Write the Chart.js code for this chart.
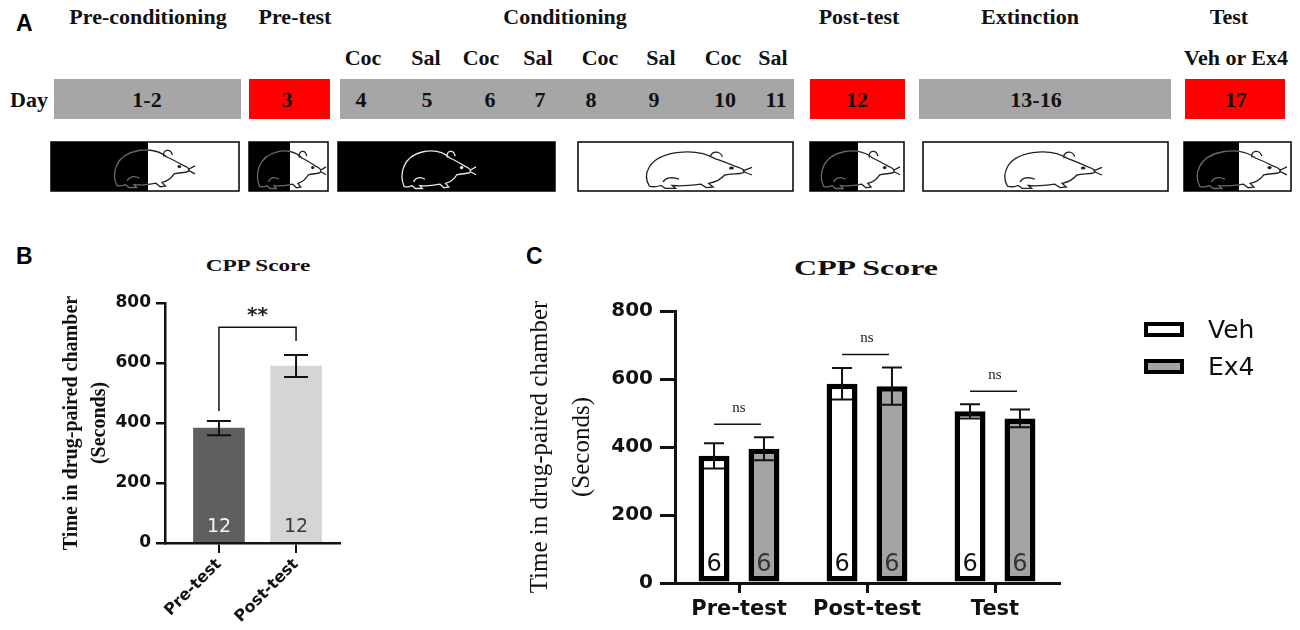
<!DOCTYPE html>
<html>
<head>
<meta charset="utf-8">
<title>CPP Score</title>
<script src="https://cdn.jsdelivr.net/npm/chart.js@4.4.1/dist/chart.umd.min.js"></script>
<style>
  html, body { margin: 0; padding: 0; background: #fff; }
  body { position: relative; width: 1300px; height: 630px; overflow: hidden; }
  .panel { position: absolute; font-family: 'Liberation Sans', Arial, sans-serif; font-weight: bold; font-size: 23px; color: #000; }
  .title { position: absolute; white-space: nowrap; font-family: 'Liberation Serif', serif; font-weight: bold; color: #111;
           transform: translate(-50%, -50%) scaleX(1.45); }
  .chart { position: absolute; }
  #legendC { position: absolute; left: 1144px; top: 311px; font-family: 'DejaVu Sans', sans-serif; font-size: 25px; color: #111; }
  #legendC .row { display: flex; align-items: center; height: 37px; }
  #legendC .sw { width: 40px; height: 15px; box-sizing: border-box; border: 4px solid #000; margin-right: 24px; }
</style>
</head>
<body>
<svg id="scheme" width="1300" height="200" style="position:absolute;left:0;top:0"></svg>
<div class="panel" style="left:16px;top:10px">A</div>
<div class="panel" style="left:16px;top:243px">B</div>
<div class="panel" style="left:526px;top:243px">C</div>
<div class="title" style="left:258px;top:266px;font-size:16px">CPP Score</div>
<div class="title" style="left:866px;top:268px;font-size:22px">CPP Score</div>
<div class="chart" style="left:0;top:280px;width:345px;height:350px"><canvas id="chartB"></canvas></div>
<div class="chart" style="left:500px;top:280px;width:800px;height:350px"><canvas id="chartC"></canvas></div>
<div id="legendC"></div>
<script>
// ---- panel B data ----
const categoriesB = ['Pre-test', 'Post-test'];
const meanB = [383, 590];
const semB = [24, 37];
const nB = [12, 12];
const sigB = '**';
const bracketB = 719;

// ---- panel C data ----
const categoriesC = ['Pre-test', 'Post-test', 'Test'];
const seriesC = ['Veh', 'Ex4'];
const vehMean = [374, 586, 505];
const vehSem = [37, 46, 21];
const ex4Mean = [395, 579, 484];
const ex4Sem = [34, 55, 26];
const nVeh = [6, 6, 6];
const nEx4 = [6, 6, 6];
const sigC = ['ns', 'ns', 'ns'];

// ---- panel A schedule ----
const phaseNames = ['Pre-conditioning', 'Pre-test', 'Conditioning', 'Post-test', 'Extinction', 'Test'];
const drugLabels = ['Coc', 'Sal', 'Coc', 'Sal', 'Coc', 'Sal', 'Coc', 'Sal', 'Veh or Ex4'];
const dayLabels = ['1-2', '3', '4', '5', '6', '7', '8', '9', '10', '11', '12', '13-16', '17'];

const INK = '#111';
const fillC = ['#ffffff', '#a4a4a4'];

// ---------- panel A (schematic) ----------
(function () {
  const svg = document.getElementById('scheme');
  const NS = 'http://www.w3.org/2000/svg';
  const el = (tag, attrs, parent) => {
    const e = document.createElementNS(NS, tag);
    for (const k in attrs) e.setAttribute(k, attrs[k]);
    (parent || svg).appendChild(e);
    return e;
  };
  const text = (s, x, y) => {
    const t = el('text', { x, y, 'text-anchor': 'middle', 'dominant-baseline': 'central',
      'font-family': 'Liberation Serif, serif', 'font-weight': 'bold', 'font-size': 22, fill: INK });
    t.textContent = s;
  };

  const phaseX = [148, 295, 565, 859, 1030, 1229];
  phaseNames.forEach((s, i) => text(s, phaseX[i], 16));
  const drugX = [363, 426, 481, 538, 600, 661, 723, 773, 1236];
  drugLabels.forEach((s, i) => text(s, drugX[i], 57));
  text('Day', 29, 99);

  // day strip
  const strip = [[54, 187, '#a6a6a6'], [249, 81, '#ff0000'], [340, 454, '#a6a6a6'],
                 [810, 95, '#ff0000'], [919, 252, '#a6a6a6'], [1185, 100, '#ff0000']];
  strip.forEach(([x, w, c]) => el('rect', { x, y: 79, width: w, height: 40, fill: c }));
  const dayX = [147, 287, 361, 427, 490, 540, 591, 654, 725, 776, 857, 1036, 1236];
  dayLabels.forEach((s, i) => text(s, dayX[i], 99));

  // chamber boxes: [x, w, width of black part]
  const boxes = [[51, 188, 97], [249, 79, 41], [338, 217, 217], [578, 215, 0],
                 [810, 94, 48], [923, 245, 0], [1184, 107, 55]];
  // rat placements: [x, y, sx, sy]
  const rats = [[108, 145, 0.87, 0.72], [252, 146, 0.74, 0.72], [396, 146, 0.8, 0.72],
                [638, 147, 1.14, 0.7], [815, 146, 0.85, 0.72], [997, 147, 1.05, 0.7],
                [1190, 146, 0.97, 0.72]];
  const ratPath = 'M10,56 C4,40 8,14 34,8 C48,5 60,9 68,17 C74,20 80,24 86,28 C92,31 95,34 92,37 ' +
    'C88,39 82,38 76,40 C73,46 68,50 62,52 L66,57 L60,58 L55,53 C46,55 36,56 30,55 L33,59 L24,59 L20,55 ' +
    'C16,57 12,57 10,56 Z M64,16 C62,6 72,4 74,14 M92,34 L100,29 M92,35 L100,40 M22,50 C24,44 30,42 36,46';
  const defs = el('defs', {});
  boxes.forEach(([x, w, split], i) => {
    el('rect', { x, y: 142, width: w, height: 49, fill: '#fff', stroke: '#000', 'stroke-width': 1.5 });
    if (split > 0) el('rect', { x, y: 142, width: split, height: 49, fill: '#000' });
    const cpL = el('clipPath', { id: 'cl' + i }, defs);
    el('rect', { x, y: 140, width: split, height: 55 }, cpL);
    const cpR = el('clipPath', { id: 'cr' + i }, defs);
    el('rect', { x: x + split, y: 140, width: w - split, height: 55 }, cpR);
    const [rx, ry, sx, sy] = rats[i];
    [['cl' + i, split === w ? '#e8e8e8' : '#6a6a6a'], ['cr' + i, '#222']].forEach(([cp, col]) => {
      const g = el('g', { 'clip-path': 'url(#' + cp + ')' });
      const r = el('g', { transform: `translate(${rx},${ry}) scale(${sx},${sy})` }, g);
      el('path', { d: ratPath, fill: 'none', stroke: col, 'stroke-width': 1.3, 'vector-effect': 'non-scaling-stroke' }, r);
      el('circle', { cx: 82, cy: 30, r: 2.2, fill: col }, r);
    });
  });
})();

// ---------- helpers for annotations ----------
function drawErrors(ctx, y, bars, mean, sem, cap, lw) {
  ctx.save();
  ctx.strokeStyle = INK;
  ctx.lineWidth = lw;
  bars.forEach((bar, i) => {
    const top = y.getPixelForValue(mean[i] + sem[i]);
    const bot = y.getPixelForValue(mean[i] - sem[i]);
    ctx.beginPath();
    ctx.moveTo(bar.x, top); ctx.lineTo(bar.x, bot);
    ctx.moveTo(bar.x - cap / 2, top); ctx.lineTo(bar.x + cap / 2, top);
    ctx.moveTo(bar.x - cap / 2, bot); ctx.lineTo(bar.x + cap / 2, bot);
    ctx.stroke();
  });
  ctx.restore();
}

function drawCounts(ctx, y, bars, counts, colors, font, lift) {
  ctx.save();
  ctx.font = font;
  ctx.textAlign = 'center';
  ctx.textBaseline = 'middle';
  bars.forEach((bar, i) => {
    ctx.fillStyle = colors[i];
    ctx.fillText(String(counts[i]), bar.x, y.getPixelForValue(0) - lift);
  });
  ctx.restore();
}

// ---------- panel B ----------
const annotB = {
  id: 'annotB',
  afterDatasetsDraw(chart) {
    const ctx = chart.ctx, y = chart.scales.y;
    const bars = chart.getDatasetMeta(0).data;
    drawErrors(ctx, y, bars, meanB, semB, 24, 2);
    drawCounts(ctx, y, bars, nB, ['#f4f4f4', '#3a3a3a'], '19px "DejaVu Sans"', 16);
    const x0 = bars[0].x, x1 = bars[1].x;
    const top = y.getPixelForValue(bracketB);
    ctx.save();
    ctx.strokeStyle = INK;
    ctx.lineWidth = 1.5;
    ctx.beginPath();
    ctx.moveTo(x0, y.getPixelForValue(meanB[0] + semB[0]) - 10);
    ctx.lineTo(x0, top);
    ctx.lineTo(x1, top);
    ctx.lineTo(x1, y.getPixelForValue(meanB[1] + semB[1]) - 14);
    ctx.stroke();
    ctx.fillStyle = '#222';
    ctx.font = 'bold 20px "DejaVu Sans"';
    ctx.textAlign = 'center';
    ctx.textBaseline = 'middle';
    ctx.fillText(sigB, (x0 + x1) / 2, top - 12);
    ctx.restore();
  }
};

new Chart(document.getElementById('chartB'), {
  type: 'bar',
  data: {
    datasets: [{
      data: meanB.map((v, i) => ({ x: i, y: v })),
      backgroundColor: ['#5f5f5f', '#d5d5d5'],
      barThickness: 51
    }]
  },
  options: {
    responsive: true,
    maintainAspectRatio: false,
    animation: false,
    layout: { padding: { top: 23, right: 5, left: 0, bottom: 0 } },
    plugins: { legend: { display: false }, tooltip: { enabled: false } },
    scales: {
      x: {
        type: 'linear',
        min: -0.7,
        max: 1.57,
        offset: false,
        afterBuildTicks: s => { s.ticks = categoriesB.map((c, i) => ({ value: i })); },
        afterFit: s => { s.height = 87; },
        grid: { drawOnChartArea: false, offset: false, color: INK, lineWidth: 2, tickLength: 10 },
        border: { color: INK, width: 2.5 },
        ticks: {
          minRotation: 45, maxRotation: 45, autoSkip: false, padding: 2,
          color: INK, font: { family: 'DejaVu Sans', weight: 'bold', size: 16 },
          callback: v => categoriesB[v] || ''
        }
      },
      y: {
        min: 0,
        max: 800,
        afterFit: s => { s.width = 165; },
        grid: { drawOnChartArea: false, color: INK, lineWidth: 2.5, tickLength: 9 },
        border: { color: INK, width: 2.5 },
        ticks: { stepSize: 200, padding: 5, color: INK, font: { family: 'DejaVu Sans', weight: 'bold', size: 17 } },
        title: {
          display: true,
          text: ['Time in drug-paired chamber', '(Seconds)'],
          color: INK,
          padding: { top: 58, bottom: 0 },
          font: { family: 'Liberation Serif', weight: 'bold', size: 20, lineHeight: 1.4 }
        }
      }
    }
  },
  plugins: [annotB]
});

// ---------- panel C ----------
const annotC = {
  id: 'annotC',
  afterDatasetsDraw(chart) {
    const ctx = chart.ctx, y = chart.scales.y;
    const veh = chart.getDatasetMeta(0).data;
    const ex4 = chart.getDatasetMeta(1).data;
    drawErrors(ctx, y, veh, vehMean, vehSem, 20, 2);
    drawErrors(ctx, y, ex4, ex4Mean, ex4Sem, 20, 2);
    drawCounts(ctx, y, veh, nVeh, [INK, INK, INK], '24px "DejaVu Sans"', 18);
    drawCounts(ctx, y, ex4, nEx4, ['#333', '#333', '#333'], '24px "DejaVu Sans"', 18);
    ctx.save();
    ctx.strokeStyle = INK;
    ctx.fillStyle = '#222';
    ctx.lineWidth = 1.5;
    ctx.font = '15px "Liberation Serif"';
    ctx.textAlign = 'center';
    ctx.textBaseline = 'middle';
    categoriesC.forEach((c, i) => {
      const hi = Math.max(vehMean[i] + vehSem[i], ex4Mean[i] + ex4Sem[i]);
      const ly = y.getPixelForValue(hi) - 13;
      ctx.beginPath();
      ctx.moveTo(veh[i].x, ly);
      ctx.lineTo(ex4[i].x - 3, ly);
      ctx.stroke();
      ctx.fillText(sigC[i], (veh[i].x + ex4[i].x) / 2, ly - 16);
    });
    ctx.restore();
  }
};

new Chart(document.getElementById('chartC'), {
  type: 'bar',
  data: {
    labels: categoriesC,
    datasets: [
      { label: seriesC[0], data: vehMean, backgroundColor: fillC[0], borderColor: '#000', borderWidth: 5.5, borderSkipped: false },
      { label: seriesC[1], data: ex4Mean, backgroundColor: fillC[1], borderColor: '#000', borderWidth: 5.5, borderSkipped: false }
    ]
  },
  options: {
    responsive: true,
    maintainAspectRatio: false,
    animation: false,
    categoryPercentage: 0.78,
    barPercentage: 0.62,
    layout: { padding: { top: 31, right: 241, left: 0, bottom: 0 } },
    plugins: { legend: { display: false }, tooltip: { enabled: false } },
    scales: {
      x: {
        afterFit: s => { s.height = 47; },
        grid: { drawOnChartArea: false, offset: false, color: INK, lineWidth: 3, tickLength: 10 },
        border: { color: INK, width: 3 },
        ticks: { padding: 4, color: INK, font: { family: 'DejaVu Sans', weight: 'bold', size: 21 } }
      },
      y: {
        min: 0,
        max: 800,
        afterFit: s => { s.width = 175; },
        grid: { drawOnChartArea: false, color: INK, lineWidth: 3, tickLength: 15 },
        border: { color: INK, width: 3 },
        ticks: { stepSize: 200, padding: 7, color: INK, font: { family: 'DejaVu Sans', weight: 'bold', size: 20 } },
        title: {
          display: true,
          text: ['Time in drug-paired chamber', '(Seconds)'],
          color: INK,
          padding: { top: 19, bottom: 0 },
          font: { family: 'Liberation Serif', size: 25, lineHeight: 1.68 }
        }
      }
    }
  },
  plugins: [annotC]
});

// legend for C
const legendC = document.getElementById('legendC');
seriesC.forEach((s, i) => {
  const row = document.createElement('div');
  row.className = 'row';
  const sw = document.createElement('span');
  sw.className = 'sw';
  sw.style.background = fillC[i];
  row.appendChild(sw);
  row.appendChild(document.createTextNode(s));
  legendC.appendChild(row);
});
</script>
</body>
</html>
